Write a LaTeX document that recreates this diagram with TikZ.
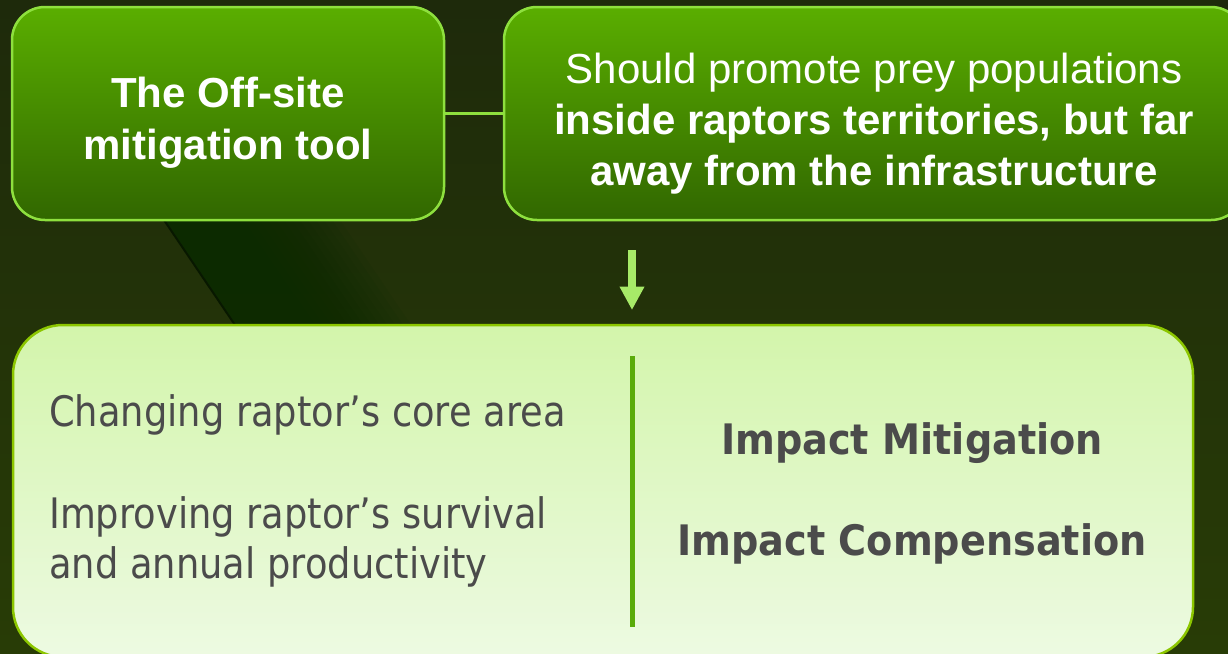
\documentclass[tikz,border=0pt]{standalone}
\usepackage{fontspec}
\setmainfont{Liberation Sans}
\newfontfamily\notefont[FakeStretch=0.877]{DejaVu Sans}
\newfontfamily\notebold[FakeStretch=0.91]{DejaVu Sans}
\usetikzlibrary{arrows.meta}

% palette
\definecolor{bgtop}{HTML}{1E2A0B}
\definecolor{bgbottom}{HTML}{283C06}
\definecolor{streak}{HTML}{0A2A00}
\definecolor{streakline}{HTML}{081800}
\definecolor{boxtop}{HTML}{5AAE00}
\definecolor{boxbottom}{HTML}{316700}
\definecolor{boxedge}{HTML}{8EE03E}
\definecolor{paneltop}{HTML}{D3F5AB}
\definecolor{panelbottom}{HTML}{EDFAE2}
\definecolor{paneledge}{HTML}{8CC600}
\definecolor{divider}{HTML}{5AAB0A}
\definecolor{arrowgreen}{HTML}{A7EA68}
\definecolor{notegrey}{HTML}{4B4B4B}

\begin{document}
\begin{tikzpicture}[x=1pt,y=-1pt,
  toolbox/.style={draw=boxedge, line width=2.5pt, rounded corners=33pt,
    top color=boxtop, bottom color=boxbottom,
    minimum width=#1, minimum height=213pt, inner sep=0pt},
  panel/.style={draw=paneledge, line width=2.5pt, rounded corners=50pt,
    top color=paneltop, bottom color=panelbottom,
    minimum width=1180pt, minimum height=332pt, inner sep=0pt},
  boxtext/.style={text=white, align=center, inner sep=0pt},
  notetext/.style={text=notegrey, inner sep=0pt,
    font=\notefont\fontsize{42}{50.5}\selectfont},
  noteheading/.style={text=notegrey, inner sep=0pt,
    font=\notebold\bfseries\fontsize{42}{50.5}\selectfont},
  link/.style={draw=boxedge, line width=2.5pt},
  downarrow/.style={draw=arrowgreen, line width=8pt,
    -{Triangle[length=23.5pt,width=23.5pt]}},
  rule/.style={draw=divider, line width=5pt}]

\useasboundingbox (0,0) rectangle (1228,653);

% dark olive backdrop
\shade[top color=bgtop, bottom color=bgbottom] (0,0) rectangle (1228,653);

% diagonal shadow streak between the rows
\begin{scope}
  \clip (0,150) rectangle (600,345);
  \foreach \d in {80,88,...,176}
    \fill[streak, opacity=0.1] (123.4,160) -- (285.7,400)
      -- ({285.7+\d},400) -- ({123.4+\d},160) -- cycle;
  \draw[streakline, line width=2pt] (123.4,160) -- (285.7,400);
\end{scope}

% top row
\node[toolbox=432pt] (offsite) at (228,113.5) {};
\node[toolbox=740pt] (promote) at (874,113.5) {};
\draw[link] (offsite.east) -- (promote.west);

\node[boxtext, font=\bfseries\fontsize{42}{52}\selectfont]
  (offsite-text) at (228,122.5) {The Off-site\\mitigation tool};
\node[boxtext, font=\fontsize{42}{51}\selectfont]
  (promote-text) at (874,123.5)
  {Should promote prey populations\\
   {\bfseries inside raptors territories, but far}\\
   {\bfseries away from the infrastructure}};

% arrow down to the outcome panel
\coordinate (arrowtail) at (632,250);
\coordinate (arrowtip) at (632,310);
\draw[downarrow] (arrowtail) -- (arrowtip);

% outcome panel
\node[panel] (outcome) at (603,491) {};
\coordinate (ruletop) at (632,356);
\coordinate (rulebottom) at (632,627);
\draw[rule] (ruletop) -- (rulebottom);

\node[notetext, anchor=base west] (core) at (49,426)
  {Changing raptor’s core area};
\node[notetext, anchor=north west, align=left] (survival) at (49,496.1)
  {Improving raptor’s survival\\and annual productivity};

\node[noteheading, anchor=base] (mitigation) at (912,454)
  {Impact Mitigation};
\node[noteheading, anchor=base] (compensation) at (912,555)
  {Impact Compensation};
\end{tikzpicture}
\end{document}
